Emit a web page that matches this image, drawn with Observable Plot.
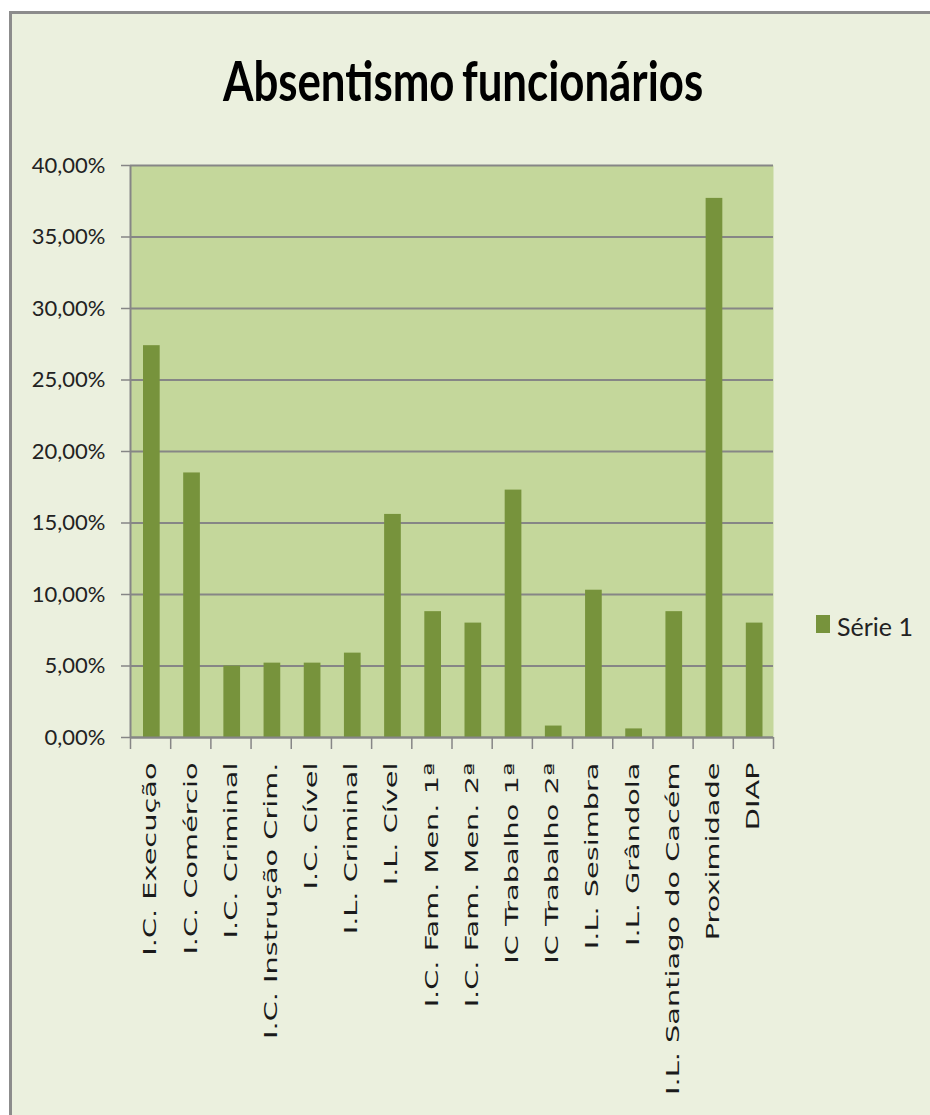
<!DOCTYPE html>
<html>
<head>
<meta charset="utf-8">
<script src="https://cdn.jsdelivr.net/npm/d3@7"></script>
<script src="https://cdn.jsdelivr.net/npm/@observablehq/plot@0.6"></script>
<style>
  html, body { margin: 0; padding: 0; background: #ffffff; }
  #chart { position: relative; width: 930px; height: 1115px; overflow: hidden; background: #ffffff; }
  #bg { position: absolute; left: 9px; top: 11px; right: 0; bottom: 0; background: #EBF0DE;
        border-left: 3px solid #8c8c8c; border-top: 3px solid #8c8c8c; }
  #title { position: absolute; left: 0; width: 926px; top: 52px; text-align: center;
           font-family: Lato, sans-serif; font-weight: 700; font-size: 56px; line-height: 56px; color: #000; white-space: nowrap; }
  #title span { display: inline-block; transform-origin: center; word-spacing: -4px; }
  #plot { position: absolute; left: 0; top: 140px; }
  #legend-swatch { position: absolute; left: 816px; top: 615px; width: 14px; height: 18px; background: #77933C; }
  #legend-text { position: absolute; left: 837px; top: 614px; font-family: Lato, sans-serif; font-size: 25px; line-height: 25px; color: #222; white-space: nowrap; }
</style>
</head>
<body>
<div id="chart">
  <div id="bg"></div>
  <div id="title"><span>Absentismo funcionários</span></div>
  <div id="plot"></div>
  <div id="legend-swatch"></div>
  <div id="legend-text"></div>
</div>
<script>
const titleText = "Absentismo funcionários";
const seriesName = "Série 1";
const categories = [
  "I.C. Execução", "I.C. Comércio", "I.C. Criminal", "I.C. Instrução Crim.",
  "I.C. Cível", "I.L. Criminal", "I.L. Cível", "I.C. Fam. Men. 1ª",
  "I.C. Fam. Men. 2ª", "IC Trabalho 1ª", "IC Trabalho 2ª", "I.L. Sesimbra",
  "I.L. Grândola", "I.L. Santiago do Cacém", "Proximidade", "DIAP"
];
const values = [27.4, 18.5, 5.0, 5.2, 5.2, 5.9, 15.6, 8.8, 8.0, 17.3, 0.8, 10.3, 0.6, 8.8, 37.7, 8.0];
const yTicks = [0, 5, 10, 15, 20, 25, 30, 35, 40];

const data = categories.map((c, i) => ({category: c, index: i, value: values[i]}));
const fmt = v => v.toFixed(2).replace(".", ",") + "%";

document.querySelector("#title span").textContent = titleText;
document.getElementById("legend-text").textContent = seriesName;

const gray = "#868686";
const plot = Plot.plot({
  width: 800,
  height: 960,
  marginLeft: 130,
  marginRight: 27,
  marginTop: 25,
  marginBottom: 363,
  x: {domain: [0, categories.length], label: null},
  y: {domain: [0, 40], label: null},
  style: {background: "transparent", overflow: "visible"},
  marks: [
    Plot.frame({fill: "#C4D79B", stroke: "none"}),
    Plot.gridY({ticks: yTicks, stroke: gray, strokeOpacity: 1, strokeWidth: 2}),
    Plot.rectY(data, {x1: "index", x2: d => d.index + 1, y1: 0, y2: "value", fill: "#77933C", insetLeft: 13, insetRight: 10.5}),
    Plot.ruleX([0], {stroke: gray, strokeWidth: 2}),
    Plot.ruleY([0], {stroke: gray, strokeWidth: 2}),
    Plot.axisX({ticks: d3.range(categories.length + 1), tickSize: 12, tickFormat: () => "", label: null, stroke: gray, strokeWidth: 1.5}),
    Plot.axisX({ticks: data.map(d => d.index + 0.5), tickSize: 0, tickPadding: 25, tickRotate: -90, label: null,
      tickFormat: v => categories[Math.floor(v)], fontSize: 18, fontFamily: "DejaVu Sans", fill: "#1a1a1a"}),
    Plot.axisY({ticks: yTicks, tickSize: 9, tickPadding: 16, tickFormat: fmt, label: null, fontSize: 22, fontFamily: "Lato", stroke: gray, strokeWidth: 1.5, fill: "#222"})
  ]
});
document.getElementById("plot").appendChild(plot);

// stretch rotated category labels along their length
plot.querySelectorAll('g[aria-label="x-axis tick label"] text').forEach(t => {
  const tr = t.getAttribute("transform") || "";
  t.setAttribute("transform", tr + " scale(1.6,1)");
});

function fitTitle() {
  const s = document.querySelector("#title span");
  s.style.transform = "none";
  const w = s.offsetWidth;
  s.style.transform = `scaleX(${480 / w})`;
}
fitTitle();
if (document.fonts && document.fonts.ready) document.fonts.ready.then(fitTitle);
</script>
</body>
</html>
